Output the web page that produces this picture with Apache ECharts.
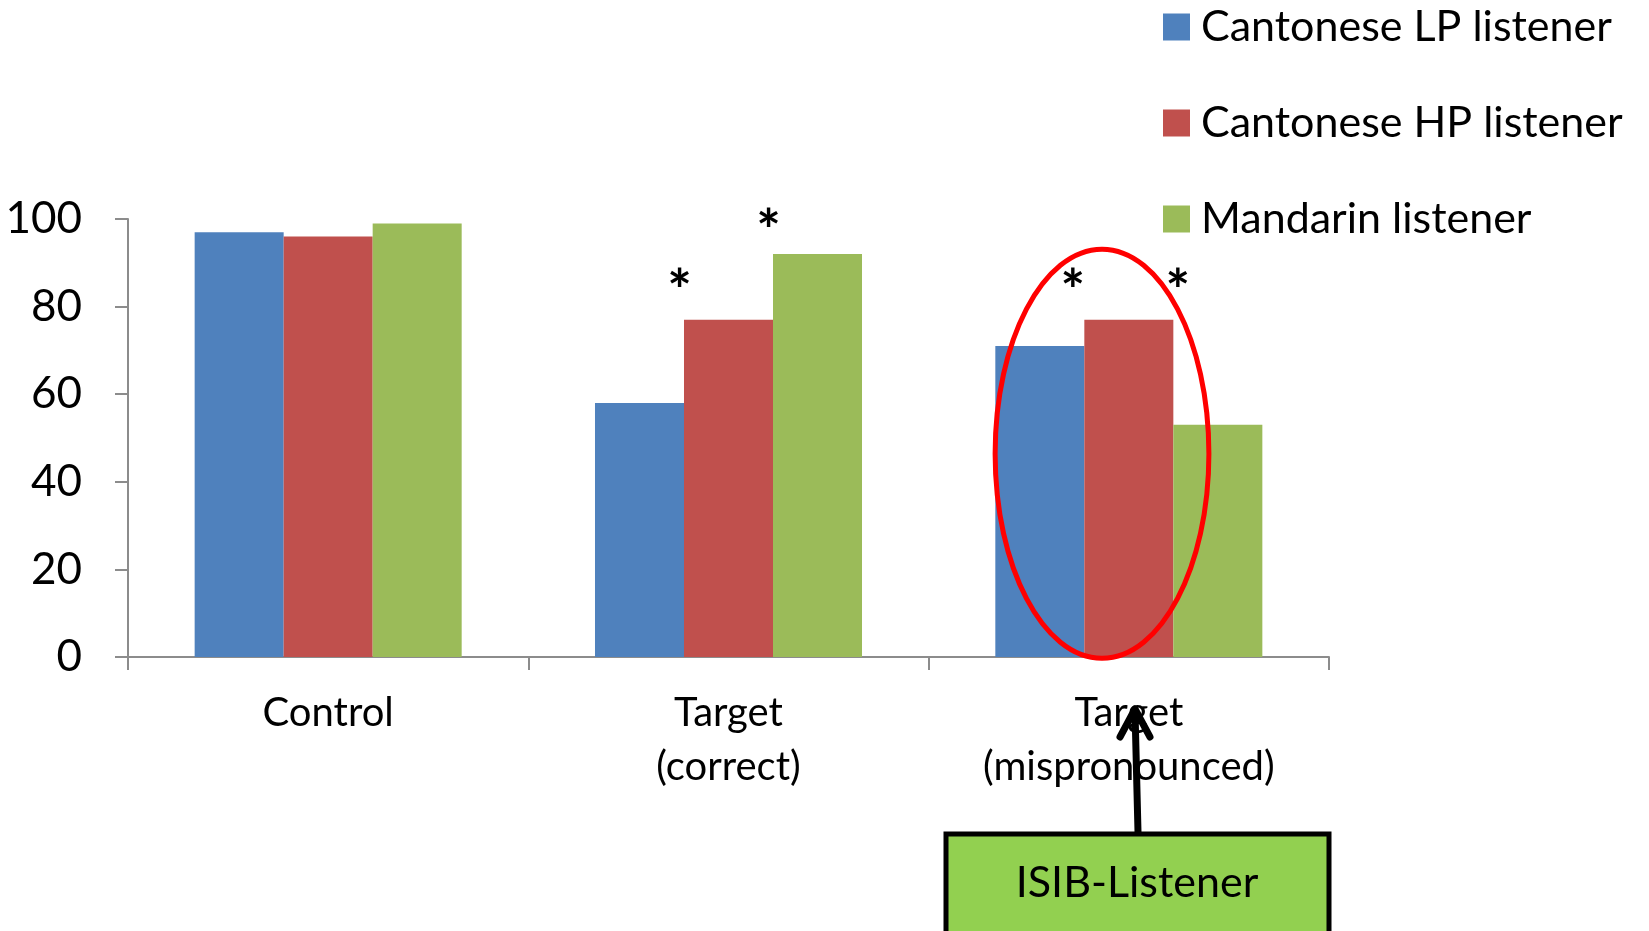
<!DOCTYPE html>
<html>
<head>
<meta charset="utf-8">
<script src="https://cdn.jsdelivr.net/npm/echarts@6/dist/echarts.min.js"></script>
<style>
  html, body { margin: 0; padding: 0; background: #ffffff; }
  #chart { width: 1649px; height: 931px; }
</style>
</head>
<body>
<div id="chart"></div>
<script>
// Categories and listener groups
const categories = ['Control', 'Target\n(correct)', 'Target\n(mispronounced)'];
const seriesNames = ['Cantonese LP listener', 'Cantonese HP listener', 'Mandarin listener'];

// Percent correct per listener group
const lpValues = [97, 58, 71];
const hpValues = [96, 77, 77];
const mandarinValues = [99, 92, 53];

// Value axis ticks
const yMin = 0;
const yMax = 100;
const yStep = 20;

// Significance stars: [category index, offset in bar widths from group centre, value]
const starMarks = [
  [1, -0.55, 86],
  [1, 0.45, 99.6],
  [2, -0.63, 86],
  [2, 0.55, 86]
];

// Highlight ring: [category index, centre value, vertical radius in value units]
const ringMarks = [[2, 46.4, 46.7]];

const FONT = 'Lato, "Open Sans", sans-serif';
const colors = ['#4F81BD', '#C0504D', '#9BBB59'];
const valueSets = [lpValues, hpValues, mandarinValues];

const chart = echarts.init(document.getElementById('chart'), null, { renderer: 'canvas' });

// width of one bar, from the category band (bars fill 2/3 of a band, 3 bars per group)
function barWidth(api) {
  return api.size([1, 0])[0] * (2 / 3) / 3;
}

const barSeries = seriesNames.map((name, i) => ({
  name: name,
  type: 'bar',
  data: valueSets[i],
  barGap: '0%',
  barCategoryGap: '33.3%',
  itemStyle: { color: colors[i] },
  emphasis: { disabled: true },
  z: 2
}));

const starSeries = {
  type: 'custom',
  name: 'stars',
  data: starMarks,
  z: 5,
  silent: true,
  renderItem: function (params, api) {
    const p = api.coord([api.value(0), api.value(2)]);
    const x = p[0] + api.value(1) * barWidth(api);
    return {
      type: 'text',
      x: x,
      y: p[1] + 12,
      style: {
        text: '*',
        fill: '#000000',
        font: 'bold 58px ' + FONT,
        align: 'center',
        verticalAlign: 'middle'
      }
    };
  }
};

const ringSeries = {
  type: 'custom',
  name: 'ring',
  data: ringMarks,
  z: 6,
  silent: true,
  renderItem: function (params, api) {
    const c = api.coord([api.value(0), api.value(1)]);
    const top = api.coord([api.value(0), api.value(1) + api.value(2)]);
    const band = api.size([1, 0])[0];
    return {
      type: 'ellipse',
      shape: {
        cx: c[0] - band * 0.067,
        cy: c[1],
        rx: band * 0.267,
        ry: c[1] - top[1]
      },
      style: { fill: 'none', stroke: '#FF0000', lineWidth: 5 }
    };
  }
};

const option = {
  animation: false,
  backgroundColor: '#ffffff',
  textStyle: { fontFamily: FONT },
  grid: { left: 128, right: 320, top: 219, bottom: 274, containLabel: false },
  legend: {
    data: seriesNames,
    orient: 'vertical',
    left: 1158,
    top: -3,
    itemWidth: 27,
    itemHeight: 27,
    itemGap: 46,
    icon: 'rect',
    selectedMode: false,
    textStyle: {
      fontFamily: FONT,
      fontSize: 43,
      color: '#000000',
      lineHeight: 50,
      padding: [0, 0, 0, 6]
    }
  },
  xAxis: {
    type: 'category',
    data: categories,
    axisLine: { lineStyle: { color: '#8C8C8C', width: 2 } },
    axisTick: { show: true, length: 13, alignWithLabel: false, lineStyle: { color: '#8C8C8C', width: 2 } },
    axisLabel: {
      color: '#000000',
      fontFamily: FONT,
      fontSize: 40,
      lineHeight: 54,
      margin: 29,
      interval: 0
    },
    splitLine: { show: false }
  },
  yAxis: {
    type: 'value',
    min: yMin,
    max: yMax,
    interval: yStep,
    axisLine: { show: true, lineStyle: { color: '#8C8C8C', width: 2 } },
    axisTick: { show: true, length: 13, inside: false, lineStyle: { color: '#8C8C8C', width: 2 } },
    axisLabel: {
      color: '#000000',
      fontFamily: FONT,
      fontSize: 44,
      margin: 46
    },
    splitLine: { show: false }
  },
  series: barSeries.concat([starSeries, ringSeries]),
  graphic: [
    {
      type: 'group',
      z: 10,
      children: [
        {
          type: 'rect',
          shape: { x: 946, y: 834, width: 383, height: 110 },
          style: { fill: '#92D050', stroke: '#000000', lineWidth: 5 }
        },
        {
          type: 'text',
          x: 1137,
          y: 883,
          style: {
            text: 'ISIB-Listener',
            font: '43px ' + FONT,
            fill: '#000000',
            align: 'center',
            verticalAlign: 'middle'
          }
        },
        {
          type: 'polyline',
          shape: { points: [[1138, 832], [1135, 711]] },
          style: { stroke: '#000000', lineWidth: 7, fill: 'none', lineCap: 'round' }
        },
        {
          type: 'polyline',
          shape: { points: [[1120, 737], [1135, 709], [1150, 737]] },
          style: { stroke: '#000000', lineWidth: 7, fill: 'none', lineCap: 'round', lineJoin: 'round' }
        }
      ]
    }
  ]
};

chart.setOption(option);
</script>
</body>
</html>
